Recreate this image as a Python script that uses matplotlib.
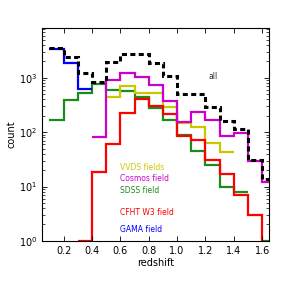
import numpy as np
import matplotlib
matplotlib.use("Agg")
import matplotlib.pyplot as plt

edges = np.round(np.arange(0.1, 1.71, 0.1), 2)  # 16 bins: 0.1..1.7
nan = np.nan
all_counts   = [3600, 2400, 1220, 845, 1970, 2780, 2740, 1880, 1070, 494, 494, 293, 160, 113, 31, 13.5]
gama_counts  = [3400, 1910, 635, nan, nan, nan, nan, nan, nan, nan, nan, nan, nan, nan, nan, nan]
vvds_counts  = [nan, nan, nan, nan, 435, 705, 527, 527, 292, 150, 122, 63, 44, nan, nan, nan]
cosmos_counts= [nan, nan, nan, 82, 905, 1230, 1020, 735, 376, 155, 234, 170, 84, 97, 29, 12.2]
sdss_counts  = [166, 387, 527, 755, 590, 575, 435, 283, 170, 88, 45, 25, 9.8, 7.8, nan, 1]
cfht_counts  = [nan, nan, 1, 18.7, 60, 227, 405, 309, 220, 84, 73, 31, 17, 6.9, 3.0, 0]

labels = ["VVDS fields", "Cosmos field", "SDSS field", "CFHT W3 field", "GAMA field"]
label_colors = ["#c8c800", "#cc00cc", "#1a8c1a", "#ff0000", "#0000ff"]
label_y = [22, 14, 8.6, 3.3, 1.6]

fig = plt.figure(figsize=(2.84, 2.84), dpi=100)
ax = fig.add_axes([0.149, 0.152, 0.799, 0.748])
ax.set_yscale("log")

lw = 1.6
ax.stairs(np.array(sdss_counts, float), edges, baseline=None, color="#1a8c1a", lw=lw)
ax.stairs(np.array(vvds_counts, float), edges, baseline=None, color="#c8c800", lw=lw)
ax.stairs(np.array(cfht_counts, float), edges, baseline=None, color="#ff0000", lw=lw)
ax.stairs(np.array(cosmos_counts, float), edges, baseline=None, color="#cc00cc", lw=lw)
ax.stairs(np.array(gama_counts, float), edges, baseline=None, color="#0000ff", lw=lw)
ax.stairs(np.array(all_counts, float), edges, baseline=None, color="black", lw=2.2,
          linestyle=(0, (1.65, 1.1)))

ax.text(1.22, 1050, "all", fontsize=5.5, color="#333333", ha="left", va="center")
for lab, c, y in zip(labels, label_colors, label_y):
    ax.text(0.6, y, lab, fontsize=5.5, color=c, ha="left", va="center")

ax.set_xlim(0.05, 1.65)
ax.set_ylim(1, 10**3.91)
ax.set_xticks([0.2, 0.4, 0.6, 0.8, 1.0, 1.2, 1.4, 1.6])
ax.set_xticklabels(["0.2", "0.4", "0.6", "0.8", "1.0", "1.2", "1.4", "1.6"])
ax.tick_params(which="both", direction="in", top=True, right=True, labelsize=7)
ax.tick_params(which="major", length=3.5, width=0.6)
ax.tick_params(which="minor", length=2, width=0.5)
for s in ax.spines.values():
    s.set_linewidth(0.8)
ax.set_xlabel("redshift", fontsize=7, labelpad=2)
ax.set_ylabel("count", fontsize=7, labelpad=2)

fig.savefig("out.png", dpi=100)
